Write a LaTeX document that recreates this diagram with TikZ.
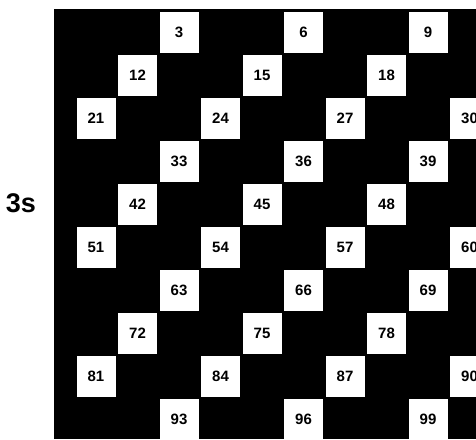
\documentclass[tikz,border=0pt]{standalone}
\usepackage{fontspec}
\setmainfont{Liberation Sans}
\tikzset{numbox/.style={rectangle, fill=white, minimum width=39pt, minimum height=41pt, inner sep=0pt, font=\bfseries\fontsize{15}{15}\selectfont}}
\begin{document}
\begin{tikzpicture}[x=1pt,y=-1pt]
  \useasboundingbox (0,0) rectangle (476,439);
  \clip (0,0) rectangle (476,439);
  % Grid
  \fill[black] (54,9) rectangle (476,439);
  % Label
  \node (threes) at (21,203) {\bfseries\fontsize{27}{27}\selectfont 3s};
  % Boxes
  \foreach \n in {3,6,...,99} {
    \pgfmathtruncatemacro{\row}{div(\n-1,10)}
    \pgfmathtruncatemacro{\col}{mod(\n-1,10)}
    \node[numbox] (n\n) at ({96+41.5*\col},{32.5+43*\row}) {\n};
  }
\end{tikzpicture}
\end{document}
